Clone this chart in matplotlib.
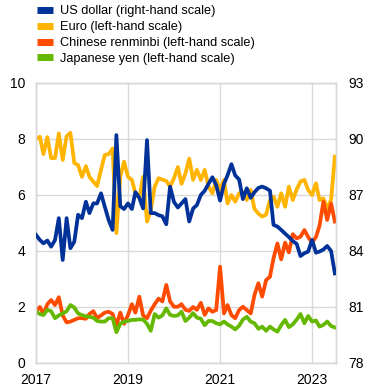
import numpy as np
import pandas as pd
import matplotlib
matplotlib.use('Agg')
import matplotlib.pyplot as plt
from matplotlib.lines import Line2D

plt.rcParams['font.family'] = ['Liberation Sans', 'DejaVu Sans']

# monthly, Jan 2017 - Jul 2023
dates = pd.date_range('2017-01-01', periods=79, freq='MS')
year_ticks = ['2017', '2019', '2021', '2023']

# US dollar share (right-hand scale)
usd = [84.86, 84.59, 84.41, 84.56, 84.23, 84.59, 85.76, 83.52, 85.76, 84.15,
       84.50, 85.94, 85.76, 86.64, 86.03, 86.55, 86.55, 87.09, 86.37, 85.65,
       85.13, 90.21, 86.40, 86.25, 86.55, 86.25, 87.15, 86.85, 86.28, 89.94,
       86.03, 86.03, 85.92, 85.86, 85.43, 87.45, 86.63, 86.33, 86.55, 86.78,
       85.58, 86.28, 86.46, 87.00, 87.23, 87.60, 87.95, 87.53, 86.70, 87.60,
       88.05, 88.65, 88.05, 87.83, 86.78, 87.36, 86.85, 87.15, 87.38, 87.45,
       87.36, 87.23, 85.40, 85.31, 85.13, 84.93, 84.75, 84.53, 84.38, 83.73,
       83.88, 83.97, 84.59, 83.91, 83.97, 84.08, 84.27, 84.00, 82.80]

# Euro share (left-hand scale)
eur = [8.00, 8.08, 7.46, 8.07, 7.32, 7.32, 8.20, 7.25, 8.10, 8.22,
       7.14, 7.07, 6.65, 7.03, 6.65, 6.48, 6.32, 6.90, 7.43, 7.46,
       7.66, 4.64, 6.65, 7.19, 6.65, 6.54, 6.06, 5.90, 6.65, 5.05,
       5.46, 6.30, 6.60, 6.55, 6.50, 6.30, 6.60, 7.00, 6.40, 6.77,
       7.30, 6.54, 6.90, 6.54, 6.90, 6.30, 6.06, 6.54, 6.18, 6.54,
       5.70, 6.00, 5.76, 6.06, 6.10, 5.82, 6.18, 5.50, 5.34, 5.23,
       5.30, 5.82, 5.94, 5.58, 6.06, 5.58, 6.30, 5.82, 6.20, 6.48,
       6.54, 6.18, 6.00, 6.42, 5.82, 5.88, 5.52, 5.82, 7.37]

# Chinese renminbi share (left-hand scale)
cny = [1.86, 2.00, 1.75, 2.10, 2.25, 2.07, 2.35, 1.70, 1.45, 1.48,
       1.54, 1.60, 1.60, 1.58, 1.75, 1.85, 1.60, 1.70, 1.80, 1.83,
       1.75, 1.35, 1.80, 1.40, 1.71, 2.10, 1.80, 2.37, 1.70, 1.60,
       1.87, 2.10, 2.30, 2.20, 2.79, 2.20, 2.01, 2.01, 2.10, 1.90,
       1.86, 2.00, 1.90, 2.15, 1.72, 1.95, 1.83, 1.89, 3.44, 1.77,
       2.07, 1.71, 1.60, 1.89, 2.01, 1.89, 1.77, 2.43, 2.85, 2.37,
       2.96, 3.08, 3.74, 4.27, 3.70, 4.30, 3.95, 4.60, 4.45, 4.51,
       4.75, 4.50, 4.30, 4.50, 4.90, 5.76, 5.11, 5.70, 5.05]

# Japanese yen share (left-hand scale)
jpy = [1.83, 1.75, 1.71, 1.90, 1.85, 1.60, 1.70, 1.77, 1.85, 2.07,
       1.98, 1.77, 1.71, 1.67, 1.65, 1.62, 1.50, 1.48, 1.48, 1.60,
       1.60, 1.10, 1.40, 1.48, 1.50, 1.54, 1.54, 1.56, 1.55, 1.40,
       1.15, 1.75, 1.62, 1.70, 1.95, 1.72, 1.68, 1.70, 1.83, 1.50,
       1.62, 1.78, 1.62, 1.58, 1.35, 1.50, 1.50, 1.42, 1.38, 1.48,
       1.38, 1.30, 1.20, 1.33, 1.55, 1.65, 1.48, 1.42, 1.22, 1.30,
       1.15, 1.30, 1.20, 1.12, 1.35, 1.54, 1.28, 1.38, 1.55, 1.75,
       1.42, 1.68, 1.48, 1.52, 1.30, 1.36, 1.48, 1.32, 1.27]

labels = ['US dollar (right-hand scale)', 'Euro (left-hand scale)',
          'Chinese renminbi (left-hand scale)', 'Japanese yen (left-hand scale)']
colors = ['#003299', '#FFB400', '#FF4B00', '#65B800']

fig = plt.figure(figsize=(3.7, 3.88), dpi=100)
ax = fig.add_axes([36 / 370, 25 / 388, 300 / 370, 280 / 388])
ax2 = ax.twinx()

lw = 2.7
ax.plot(dates, eur, color=colors[1], lw=lw, zorder=3)
ax.plot(dates, cny, color=colors[2], lw=lw, zorder=4)
ax.plot(dates, jpy, color=colors[3], lw=lw, zorder=5)
ax2.plot(dates, usd, color=colors[0], lw=lw, zorder=3)

ax.set_ylim(0, 10)
ax.set_yticks([0, 2, 4, 6, 8, 10])
ax2.set_ylim(78, 93)
ax2.set_yticks([78, 81, 84, 87, 90, 93])

ax.set_xlim(pd.Timestamp('2017-01-01'), pd.Timestamp('2023-07-10'))
ax.set_xticks([pd.Timestamp(y + '-01-01') for y in year_ticks])
ax.set_xticklabels(year_ticks)

ax.grid(True, color='#d9d9d9', lw=1)
ax.set_axisbelow(True)
for a in (ax, ax2):
    for s in a.spines.values():
        s.set_color('#d9d9d9')
        s.set_linewidth(1)
    a.tick_params(length=0, labelsize=10, colors='#000000')
ax.tick_params(axis='y', pad=8)
ax2.tick_params(axis='y', pad=9)
ax.tick_params(axis='x', pad=7)

handles = [Line2D([], [], color=c, lw=5, solid_capstyle='butt') for c in colors]
fig.legend(handles, labels, loc='upper left', bbox_to_anchor=(29 / 370, 1.006),
           frameon=False, fontsize=9.2, handlelength=1.3, handletextpad=0.55,
           labelspacing=0.3, borderaxespad=0.2)

fig.savefig('out.png', dpi=100)
